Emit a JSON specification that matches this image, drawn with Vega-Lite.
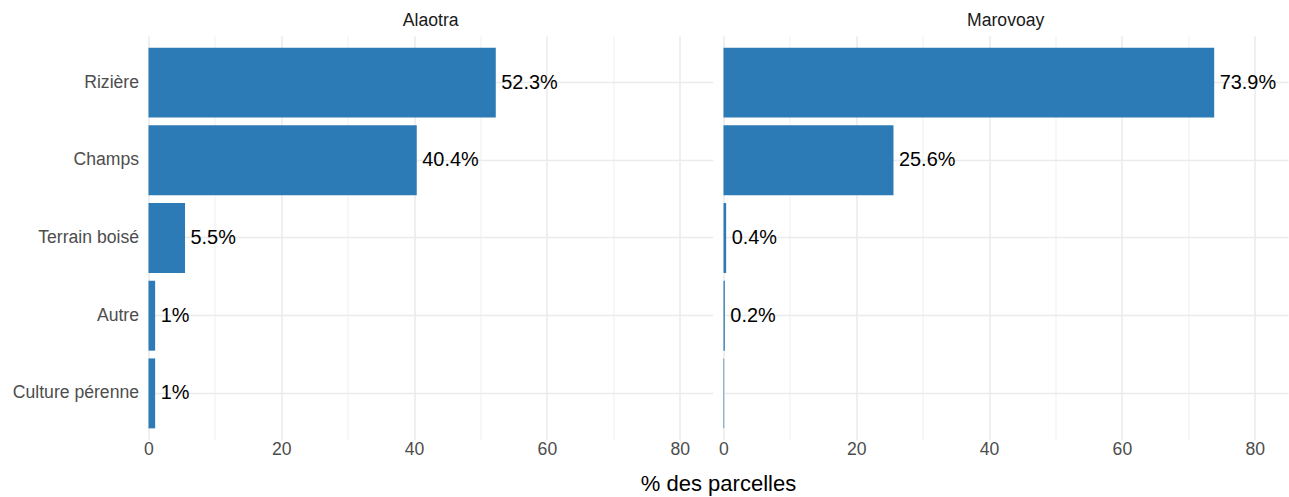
{
  "$schema": "https://vega.github.io/schema/vega-lite/v6.json",
  "padding": {"left": 11.5, "top": 12, "right": 2, "bottom": 4},
  "data": {
    "values": [
      {"region": "Alaotra", "type": "Rizière", "pct": 52.3, "label": "52.3%"},
      {"region": "Alaotra", "type": "Champs", "pct": 40.4, "label": "40.4%"},
      {"region": "Alaotra", "type": "Terrain boisé", "pct": 5.5, "label": "5.5%"},
      {"region": "Alaotra", "type": "Autre", "pct": 1.0, "label": "1%"},
      {"region": "Alaotra", "type": "Culture pérenne", "pct": 1.0, "label": "1%"},
      {"region": "Marovoay", "type": "Rizière", "pct": 73.9, "label": "73.9%"},
      {"region": "Marovoay", "type": "Champs", "pct": 25.6, "label": "25.6%"},
      {"region": "Marovoay", "type": "Terrain boisé", "pct": 0.4, "label": "0.4%"},
      {"region": "Marovoay", "type": "Autre", "pct": 0.2, "label": "0.2%"},
      {"region": "Marovoay", "type": "Culture pérenne", "pct": 0.1, "label": ""}
    ]
  },
  "facet": {
    "column": {
      "field": "region",
      "type": "nominal",
      "sort": ["Alaotra", "Marovoay"],
      "title": "% des parcelles",
      "header": {
        "labelOrient": "top",
        "titleOrient": "bottom",
        "labelFontSize": 17.6,
        "labelColor": "#1a1a1a",
        "labelFont": "Liberation Sans",
        "labelPadding": 6,
        "titleFontSize": 22,
        "titleColor": "#000000",
        "titleFont": "Liberation Sans",
        "titleFontWeight": "normal",
        "titlePadding": 6
      }
    }
  },
  "spacing": 10,
  "spec": {
    "width": 564.4,
    "height": 404,
    "encoding": {
      "y": {
        "field": "type",
        "type": "nominal",
        "sort": ["Rizière", "Champs", "Terrain boisé", "Autre", "Culture pérenne"],
        "scale": {"paddingInner": 0.1, "paddingOuter": 0.15},
        "axis": {
          "title": null,
          "domain": false,
          "ticks": false,
          "grid": true,
          "gridColor": "#ebebeb",
          "gridWidth": 1.6,
          "labelFontSize": 17.6,
          "labelColor": "#4d4d4d",
          "labelFont": "Liberation Sans",
          "labelPadding": 10
        }
      },
      "x": {
        "field": "pct",
        "type": "quantitative",
        "scale": {"domain": [0, 85], "nice": false, "zero": true},
        "axis": {
          "title": null,
          "values": [0, 10, 20, 30, 40, 50, 60, 70, 80],
          "labelExpr": "datum.value % 20 === 0 ? datum.label : ''",
          "domain": false,
          "ticks": false,
          "grid": true,
          "gridColor": "#ebebeb",
          "gridWidth": {"condition": {"test": "datum.value % 20 === 0", "value": 1.6}, "value": 0.8},
          "labelFontSize": 17.6,
          "labelColor": "#4d4d4d",
          "labelFont": "Liberation Sans",
          "labelPadding": 0,
          "labelFlush": false,
          "labelOverlap": false
        }
      }
    },
    "layer": [
      {"mark": {"type": "bar", "color": "#2c7bb6"}},
      {
        "mark": {"type": "text", "align": "left", "baseline": "middle", "dx": 5.5, "fontSize": 19.9, "color": "#000000", "font": "Liberation Sans"},
        "encoding": {"text": {"field": "label", "type": "nominal"}}
      }
    ]
  },
  "config": {
    "view": {"stroke": null},
    "font": "Liberation Sans",
    "background": "#ffffff"
  }
}
